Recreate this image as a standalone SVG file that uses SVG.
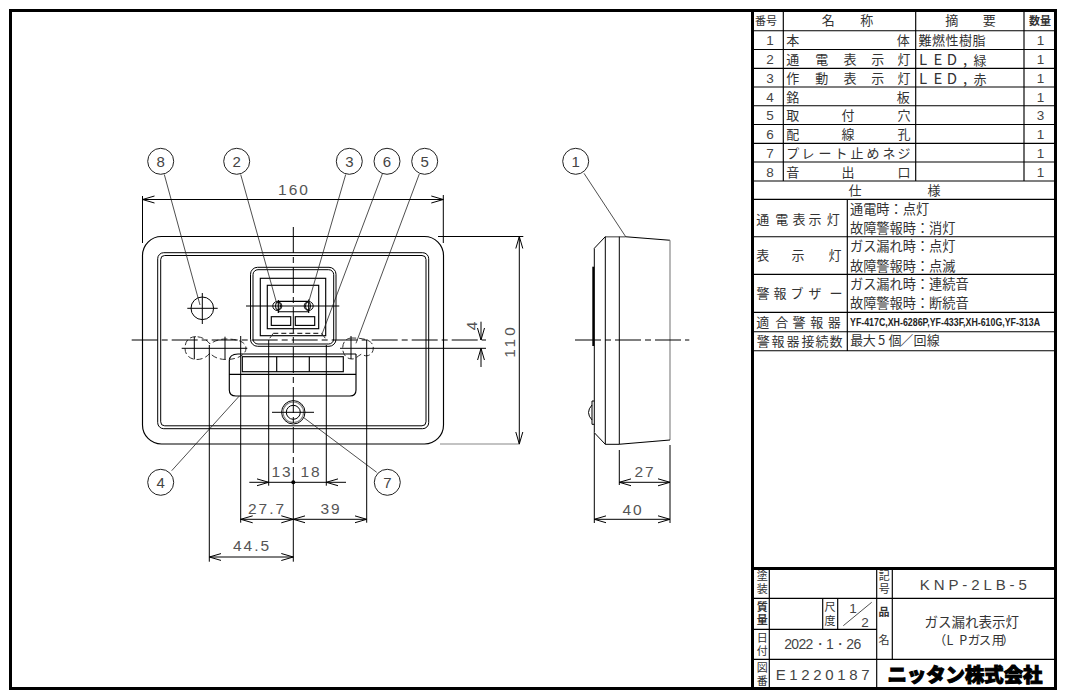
<svg xmlns="http://www.w3.org/2000/svg" width="1065" height="697" viewBox="0 0 1065 697">
<style>
.l{fill:none;stroke:#000;stroke-width:1}
.g{fill:none;stroke:#888;stroke-width:1.2}
.t{fill:none;stroke:#000;stroke-width:1.15}
.b{fill:none;stroke:#000;stroke-width:3}
.le{fill:none;stroke:#222;stroke-width:.8}
.c{fill:none;stroke:#000;stroke-width:1;stroke-dasharray:26 4 6 4}
.d{fill:none;stroke:#000;stroke-width:1;stroke-dasharray:5 3}
.dg{fill:none;stroke:#333;stroke-width:1;stroke-dasharray:6 3}
.a{fill:none;stroke:#000;stroke-width:1;marker-end:url(#ah)}
.aa{fill:none;stroke:#000;stroke-width:1;marker-start:url(#ah);marker-end:url(#ah)}
.ball{fill:#fff;stroke:#222;stroke-width:1}
.bt{font:15px "Liberation Sans",sans-serif;fill:#444;text-anchor:middle}
.dim{font:15.5px "Liberation Sans",sans-serif;fill:#555;text-anchor:middle;letter-spacing:2px}
.j{font:13px "Noto Sans CJK JP",sans-serif;fill:#333;text-anchor:middle}
.w{font:15px "Noto Sans CJK JP",sans-serif;fill:#333;text-anchor:middle}
.js{font:13.2px "Noto Sans CJK JP",sans-serif;fill:#333}
.h{font:11px "Noto Sans CJK JP",sans-serif;fill:#333;text-anchor:middle}
.v{font:11px "Noto Sans CJK JP",sans-serif;fill:#333;writing-mode:vertical-rl;letter-spacing:1.5px}
.n{font:13.5px "Liberation Sans",sans-serif;fill:#444;text-anchor:middle}
</style>
<defs>
<marker id="ah" markerUnits="userSpaceOnUse" markerWidth="14" markerHeight="10" refX="12" refY="5" orient="auto-start-reverse"><path d="M0,1.5 L12,5 L0,8.5" fill="none" stroke="#000" stroke-width="1"/></marker>
</defs>
<rect width="1065" height="697" fill="#fff"/>
<rect class="b" x="10.5" y="10.5" width="1045" height="678"/>

<g id="front-view">
<path class="t" d="M161.500,236.500H424.500A19,19 0 0 1 443.500,255.500V425A19,19 0 0 1 424.500,444H161.500A19,19 0 0 1 142.500,425V255.500A19,19 0 0 1 161.500,236.500Z"/>
<rect class="l" x="157.700" y="252.700" width="271" height="176" rx="6"/>
<rect class="l" x="160.700" y="255.500" width="265.300" height="170.300" rx="4"/>
<rect class="l" x="250.500" y="267.300" width="85.500" height="79" rx="7"/>
<rect class="l" x="253" y="269.700" width="80.700" height="74.300" rx="5"/>
<rect class="t" x="260.300" y="278.300" width="65.400" height="57.400"/>
<rect class="t" x="267.300" y="285.300" width="51.400" height="43.400"/>
<rect class="t" x="271.300" y="316.700" width="19.400" height="8.700"/>
<rect class="t" x="295.300" y="316.700" width="19.400" height="8.700"/>
<path class="t" d="M278.300,301.300H308.700M278.300,311.700H308.700M278.300,300V313M308.700,299.500V313"/>
<circle class="l" cx="277.300" cy="306" r="4.500"/><ellipse class="l" cx="278" cy="306" rx="2.500" ry="4"/>
<circle class="l" cx="308.700" cy="306" r="4.500"/><ellipse class="l" cx="308" cy="306" rx="2.500" ry="4"/>
<path class="l" d="M246,306H339.300"/>
<path class="d" d="M273.300,333.300H321.700"/>
<path class="dg" d="M273.300,333.300L268.500,340M321.700,333.300L326.500,340"/>
<path class="t" d="M229.300,361Q229.300,354 238,354H356M356,354V390Q356,396 350,396H236Q229.300,396 229.300,390V361M229.300,374.300H356"/>
<rect class="t" x="242.300" y="356.700" width="101" height="15"/>
<path class="t" d="M276.700,356.700V371.700M309.300,356.700V371.700"/>
<circle class="l" cx="293.300" cy="412.300" r="11.700"/><circle class="g" cx="293.300" cy="412.300" r="10.300"/><circle class="l" cx="293.300" cy="412.300" r="7"/>
<path class="l" d="M272,412.300H314"/>
<circle class="l" cx="202.300" cy="308.300" r="11.300"/>
<path class="l" d="M187.300,308.300H217.700M202.300,293V324"/>
<path class="dg" d="M196,336.700C188,336.700 185,342 185,348.300C185,355 190,359.500 197,359.500C202,359.500 207,357 210,353C213,357 219,359.500 226,359.500C237,359.500 246,355 246,348.300C246,342 238,339 226,339C218,339 213,342 210,344C207,340 202,336.700 196,336.700Z"/>
<path class="dg" d="M352,338C346,338 342.700,342 342.700,348.300C342.700,355 347,359 352,359C357,359 358,355 362,354C366,358 373.300,355 373.300,348.300C373.300,341 366,338 352,338Z"/>
<path class="l" d="M181.700,348.300H247.300M194.300,336.700V359.300M225,336.700V359.300M351,336V359M340,348.300H486"/>
<path class="c" d="M131.700,340H486M293.300,227V482"/>
</g>

<g id="side-view">
<path class="l" d="M594.300,248.300L605.300,236.700H625.700M594.300,248.300V432.700L605.300,444.300H619.300"/>
<path class="g" d="M605.300,236.700H625"/>
<path class="t" d="M625.700,236.700L670,240.300"/>
<path class="g" d="M670,240.300V440"/>
<path class="t" d="M619.300,444.300L670,440"/>
<path class="l" d="M605.300,236.700V444.300M619.300,236.700V444.300"/>
<path class="b" style="stroke-width:2" d="M593.300,266.700V346"/>
<path class="l" d="M592,401H594.300M592,424.300H594.300M592,401V424.300M592,405Q585,412.500 592,420"/>
<path class="c" d="M575,340H689.300"/>
</g>

<g id="connectors">
<path class="le" d="M164.300,174.500L200,305M240.700,174.500L276.700,303.300M345.700,174.500L308.300,303.300M382.300,174L321.700,335M419.300,174L356,343.300M239.300,396L171.700,470.700M303.300,417.300L376.700,472.300M584,173.300L625.700,236.700"/>
</g>

<g id="dimensions">
<path class="l" d="M142.500,196V243M443.300,195V243M438,236.500H523.300M209.300,345V561.700M240.700,336V522.700M268.700,340V485.700M326.300,345V485.700M366.700,340V522.700M293.300,482V561.700M594.300,433V523M670,445V523M619.300,450V485"/>
<path class="g" d="M440,444H520"/>
<path class="aa" d="M142.500,199.500H443.300"/>
<path class="aa" d="M519.300,236.500V444"/>
<path class="a" d="M481,321.700V340"/>
<path class="a" d="M481,367V348.300"/>
<path class="a" d="M249.300,482.300H268.700"/>
<path class="a" d="M346,482.300H326.300"/>
<path class="l" d="M268.700,482.300H326.300"/>
<circle cx="293.300" cy="482.300" r="2" fill="#000"/>
<path class="aa" d="M240.700,519.300H293.300"/>
<path class="aa" d="M293.300,519.300H366.700"/>
<path class="aa" d="M209.300,557H293.300"/>
<path class="aa" d="M619.300,482.300H670"/>
<path class="aa" d="M594.300,519.300H670"/>
<text class="dim" x="294" y="194.500">160</text>
<text class="dim" x="282" y="477">13</text>
<text class="dim" x="311" y="477">18</text>
<text class="dim" x="267" y="514">27.7</text>
<text class="dim" x="331" y="514">39</text>
<text class="dim" x="252" y="551">44.5</text>
<text class="dim" x="645" y="477">27</text>
<text class="dim" x="633" y="515">40</text>
<text class="dim" transform="translate(515 341) rotate(-90)" style="letter-spacing:3px">110</text>
<text class="dim" transform="translate(477 325) rotate(-90)">4</text>
</g>

<g id="n8"><circle class="ball" cx="160.700" cy="161.300" r="13"/><text class="bt" x="160.700" y="166.500">8</text></g>
<g id="n2"><circle class="ball" cx="236.700" cy="161.300" r="13"/><text class="bt" x="236.700" y="166.500">2</text></g>
<g id="n3"><circle class="ball" cx="349.300" cy="161.300" r="13"/><text class="bt" x="349.300" y="166.500">3</text></g>
<g id="n6"><circle class="ball" cx="387" cy="161.300" r="13"/><text class="bt" x="387" y="166.500">6</text></g>
<g id="n5"><circle class="ball" cx="424.700" cy="161.300" r="13"/><text class="bt" x="424.700" y="166.500">5</text></g>
<g id="n1"><circle class="ball" cx="575.700" cy="161.300" r="13"/><text class="bt" x="575.700" y="166.500">1</text></g>
<g id="n4"><circle class="ball" cx="160.700" cy="482.300" r="13"/><text class="bt" x="160.700" y="487.500">4</text></g>
<g id="n7"><circle class="ball" cx="387.300" cy="482.300" r="13"/><text class="bt" x="387.300" y="487.500">7</text></g>

<g id="parts-table">
<path class="b" d="M752.500,10.500V688.500"/>
<path class="t" d="M752,30.700H1055M752,49.500H1055M752,68.300H1055M752,87H1055M752,105.700H1055M752,124.500H1055M752,143.300H1055M752,162H1055M783.300,10.500V181M915.700,10.500V181M1024,10.500V181"/>
<path class="t" d="M752,181H1055M752,199.300H1055M752,236.700H1055M752,274.300H1055M752,312.300H1055M752,331.700H1055M752,350.700H1055M847.300,199.300V350.700"/>
<text class="h" x="766" y="25">番号</text>
<text class="j" x="828.300 866.700" y="25">名称</text>
<text class="j" x="951.700 989.300" y="25">摘要</text>
<text class="h" x="1040" y="25" style="font-weight:700">数量</text>
<g class="n">
<text x="770" y="45">1</text><text x="770" y="64">2</text><text x="770" y="83">3</text><text x="770" y="101.500">4</text><text x="770" y="120">5</text><text x="770" y="139">6</text><text x="770" y="158">7</text><text x="770" y="176.500">8</text>
<text x="1040.500" y="45">1</text><text x="1040.500" y="64">1</text><text x="1040.500" y="83">1</text><text x="1040.500" y="101.500">1</text><text x="1040.500" y="120">3</text><text x="1040.500" y="139">1</text><text x="1040.500" y="158">1</text><text x="1040.500" y="176.500">1</text>
</g>
<text class="j" x="792.700 903.300" y="45">本体</text>
<text class="j" x="792.700 821.700 850 877.700 904" y="64">通電表示灯</text>
<text class="j" x="792.700 821.700 850 877.700 904" y="83">作動表示灯</text>
<text class="j" x="792.700 903.300" y="101.500">銘板</text>
<text class="j" x="792.700 848 904" y="120">取付穴</text>
<text class="j" x="792.700 848 904" y="139">配線孔</text>
<text class="j" x="792.700 808 825 841 857 873 889 904" y="158">プレート止めネジ</text>
<text class="j" x="792.700 848 904" y="176.500">音出口</text>
<text class="j" x="925 938.500 952 965.500 979" y="45">難燃性樹脂</text>
<text class="w" x="923 938 952 965 980" y="64.500">LED,<tspan style="font-size:13px">緑</tspan></text>
<text class="w" x="923 938 952 965 980" y="83.500">LED,<tspan style="font-size:13px">赤</tspan></text>
<text class="j" x="855 934" y="195">仕様</text>
<text class="j" x="762.700 781.700 799 815 833.300" y="223.500">通電表示灯</text>
<text class="j" x="762.700 798 835" y="260">表示灯</text>
<text class="j" x="763 780 797 815 836" y="298">警報ブザー</text>
<text class="j" x="762.700 781.700 799 816.700 834.300" y="326.500">適合警報器</text>
<text class="j" x="763.300 778 793 808 822 836" y="345.500">警報器接続数</text>
<text class="js" x="850" y="213.800">通電時：点灯</text>
<text class="js" x="850" y="232.800">故障警報時：消灯</text>
<text class="js" x="850" y="251.200">ガス漏れ時：点灯</text>
<text class="js" x="850" y="270.500">故障警報時：点滅</text>
<text class="js" x="850" y="288.800">ガス漏れ時：連続音</text>
<text class="js" x="850" y="307.800">故障警報時：断続音</text>
<text x="850" y="325.500" textLength="190" lengthAdjust="spacingAndGlyphs" style="font:700 10px 'Liberation Sans Narrow','Liberation Sans',sans-serif;fill:#222">YF-417C,XH-6286P,YF-433F,XH-610G,YF-313A</text>
<text class="j" x="856.700 869.300 881.700 895 906.700 920 933.300" y="345">最大5個／回線</text>
</g>

<g id="title-block">
<path class="b" d="M752,568.500H1055"/>
<path class="t" d="M752,598.300H1055M752,629.300H876.700M752,659.300H1055M769.300,568.500V688M876.700,568.500V688M892.300,568.500V659.300M822.700,598.300V629.300M837.700,598.300V629.300"/>
<path class="le" d="M843.300,625.700L871.700,602.300"/>
<text class="v" x="762.300" y="570.500">塗装</text>
<text class="v" x="884.300" y="570.500">記号</text>
<text class="v" x="762.300" y="601.500" style="font-weight:700">質量</text>
<text class="v" x="830" y="601" style="letter-spacing:3px">尺度</text>
<text class="v" x="762.300" y="632.500">日付</text>
<text class="v" x="762.300" y="662.500">図番</text>
<text class="h" x="884" y="616" style="font-weight:700">品</text>
<text class="h" x="884" y="644">名</text>
<text class="n" x="853" y="613">1</text>
<text class="n" x="865" y="627">2</text>
<text x="973.300" y="590" text-anchor="middle" textLength="107" style="font:15px 'Liberation Sans',sans-serif;fill:#444">KNP-2LB-5</text>
<text class="j" x="971.700" y="626.500" style="font-size:13.500px">ガス漏れ表示灯</text>
<text class="j" x="940 950 963.300 974 985 998 1008" y="645" style="font-size:12.500px">（LPガス用）</text>
<text x="822.700" y="649" text-anchor="middle" textLength="77" style="font:14px 'Liberation Sans',sans-serif;fill:#444">2022・1・26</text>
<text x="822.700" y="680" text-anchor="middle" textLength="94" style="font:15px 'Liberation Sans',sans-serif;fill:#444">E1220187</text>
<text x="965" y="682" text-anchor="middle" textLength="155" lengthAdjust="spacingAndGlyphs" style="font:900 19.500px 'Noto Sans CJK JP',sans-serif;fill:#000;stroke:#000;stroke-width:1">ニッタン株式会社</text>
</g>
</svg>
